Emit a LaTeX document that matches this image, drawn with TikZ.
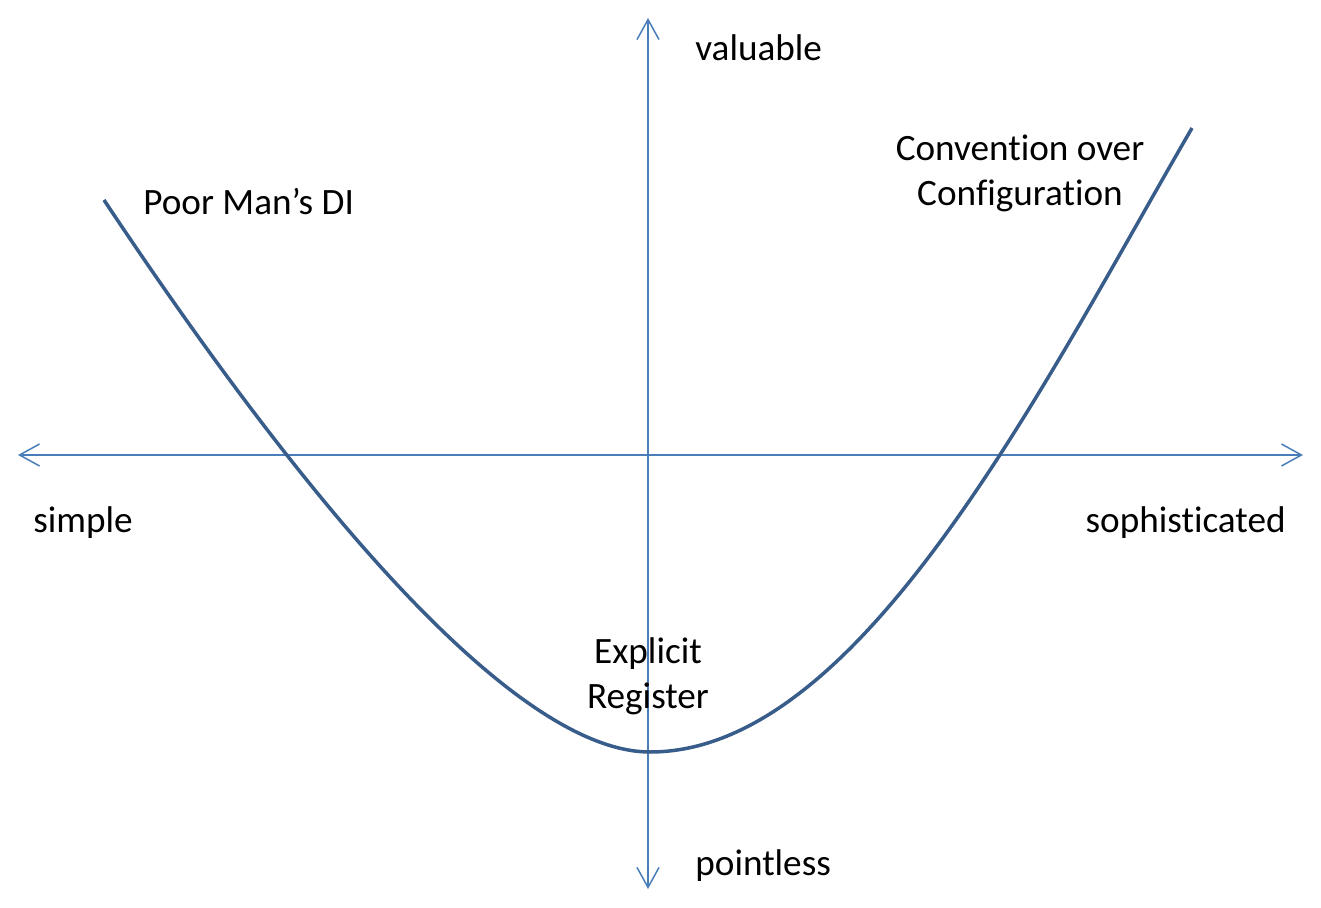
\documentclass[tikz,border=0pt]{standalone}
\usepackage{fontspec}
\setmainfont{Carlito}[Ligatures=NoCommon]
\usetikzlibrary{arrows.meta}
\definecolor{axisblue}{HTML}{4A7EBB}
\definecolor{curveblue}{HTML}{385D8A}

\begin{document}
\begin{tikzpicture}[x=0.5pt,y=-0.5pt,
    axis/.style={draw=axisblue,line width=0.75pt,
        {Straight Barb[length=10pt,width=11pt]}-{Straight Barb[length=10pt,width=11pt]}},
    curve/.style={draw=curveblue,line width=1.75pt},
    lbl/.style={inner sep=0pt,font=\fontsize{18.6}{22.5}\selectfont}]
    \useasboundingbox[fill=white] (0,0) rectangle (1321,908);

    %Axes
    \coordinate (left) at (18,455);
    \coordinate (right) at (1303,455);
    \coordinate (top) at (648,18);
    \coordinate (bottom) at (648,889);
    \draw[axis] (left) -- (right);
    \draw[axis] (bottom) -- (top);

    %Axis labels
    \node[lbl,anchor=base west] (valuable) at (695,61) {valuable};
    \node[lbl,anchor=base west] (pointless) at (695,875) {pointless};
    \node[lbl,anchor=base west] (simple) at (33,532) {simple};
    \node[lbl,anchor=base east] (sophisticated) at (1286,532) {sophisticated};

    %Curve
    \coordinate (start) at (104,200);
    \coordinate (low) at (650,752);
    \coordinate (finish) at (1192,128);
    \draw[curve] (start) .. controls (340,555) and (530,752) .. (low)
        .. controls (860,752) and (1040,390) .. (finish);

    %Curve labels
    \node[lbl,anchor=base west] (poorman) at (143,215) {Poor Man’s DI};
    \node[lbl,anchor=base,align=center] (convention) at (1020,206) {Convention over\\Configuration};
    \node[lbl,anchor=base,align=center] (explicit) at (648,708) {Explicit\\Register};
\end{tikzpicture}
\end{document}
